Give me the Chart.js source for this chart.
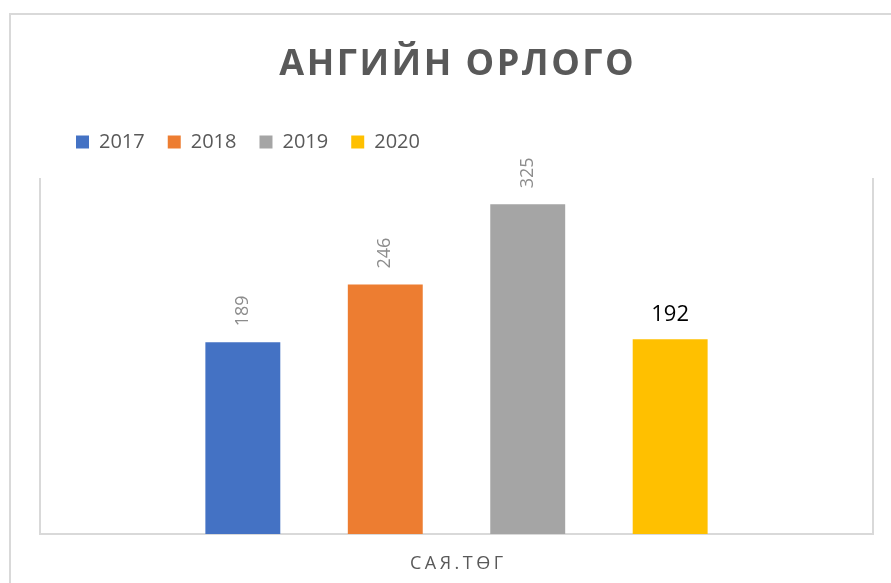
<!DOCTYPE html>
<html>
<head>
<meta charset="utf-8">
<script src="https://cdn.jsdelivr.net/npm/chart.js@4/dist/chart.umd.min.js"></script>
<style>
  html,body{margin:0;padding:0;background:#fff;overflow:hidden;}
  #wrap{position:relative;width:891px;height:583px;}
  #frame{position:absolute;left:9px;top:13px;width:1000px;height:1000px;border:2px solid #d9d9d9;box-sizing:border-box;}
  #grafico{position:absolute;left:0;top:0;}
</style>
</head>
<body>
<div id="wrap">
  <div id="frame"></div>
  <canvas id="grafico" width="891" height="583"></canvas>
</div>
<script>
const titulo = 'АНГИЙН ОРЛОГО';
const categorias = ['САЯ.ТӨГ'];
const anos = ['2017', '2018', '2019', '2020'];
const valores = [189, 246, 325, 192];
const cores = ['#4472C4', '#ED7D31', '#A5A5A5', '#FFC000'];

const FONTE = "'Open Sans', 'Noto Sans', sans-serif";

// titulo, rotulo da categoria e valores das barras
const textos = {
  id: 'textos',
  afterLayout(chart){
    // empurra a legenda um pouco pra direita e pra cima
    chart.legend.left += 13;
    chart.legend.right += 13;
    chart.legend.top -= 17;
  },
  afterDraw(chart){
    const ctx = chart.ctx;
    const area = chart.chartArea;
    const meio = (area.left + area.right) / 2;
    ctx.save();
    ctx.textAlign = 'center';
    ctx.textBaseline = 'alphabetic';

    ctx.fillStyle = '#595959';
    ctx.font = "bold 36px " + FONTE;
    ctx.letterSpacing = '2.5px';
    ctx.fillText(titulo, meio + 1.25, 75);

    ctx.font = "18px " + FONTE;
    ctx.letterSpacing = '3.5px';
    ctx.fillText(categorias[0], meio + 1.75, 569);
    ctx.letterSpacing = '0px';

    chart.data.datasets.forEach((ds, i) => {
      const bar = chart.getDatasetMeta(i).data[0];
      const txt = String(ds.data[0]);
      if (i < 3) {
        ctx.save();
        ctx.translate(bar.x, bar.y - 16);
        ctx.rotate(-Math.PI / 2);
        ctx.textAlign = 'left';
        ctx.textBaseline = 'middle';
        ctx.fillStyle = '#8c8c8c';
        ctx.font = "18px " + FONTE;
        ctx.fillText(txt, 0, 0);
        ctx.restore();
      } else {
        ctx.fillStyle = '#000';
        ctx.font = "22px " + FONTE;
        ctx.fillText(txt, bar.x, bar.y - 18);
      }
    });
    ctx.restore();
  }
};

const eixo = {
  display: true,
  min: 0,
  max: 350,
  ticks: {display: false},
  grid: {display: false, drawTicks: false},
  border: {display: true, color: '#d9d9d9', width: 2}
};

new Chart(grafico, {
  type: 'bar',
  data: {
    labels: categorias,
    datasets: anos.map((a, i) => ({
      label: a,
      data: [valores[i]],
      backgroundColor: cores[i],
      categoryPercentage: 0.684,
      barPercentage: 0.526
    }))
  },
  options: {
    responsive: false,
    animation: false,
    layout: {padding: {left: 40, right: 18, top: 126, bottom: 49}},
    plugins: {
      title: {display: false},
      tooltip: {enabled: false},
      legend: {
        position: 'top',
        align: 'start',
        labels: {
          boxWidth: 13,
          boxHeight: 13,
          padding: 23,
          color: '#595959',
          font: {size: 20, family: FONTE}
        }
      }
    },
    scales: {
      x: {
        ticks: {display: false},
        grid: {display: false, drawTicks: false},
        border: {display: true, color: '#d9d9d9', width: 2}
      },
      y: eixo,
      y2: Object.assign({}, eixo, {position: 'right'})
    }
  },
  plugins: [textos]
});
</script>
</body>
</html>
